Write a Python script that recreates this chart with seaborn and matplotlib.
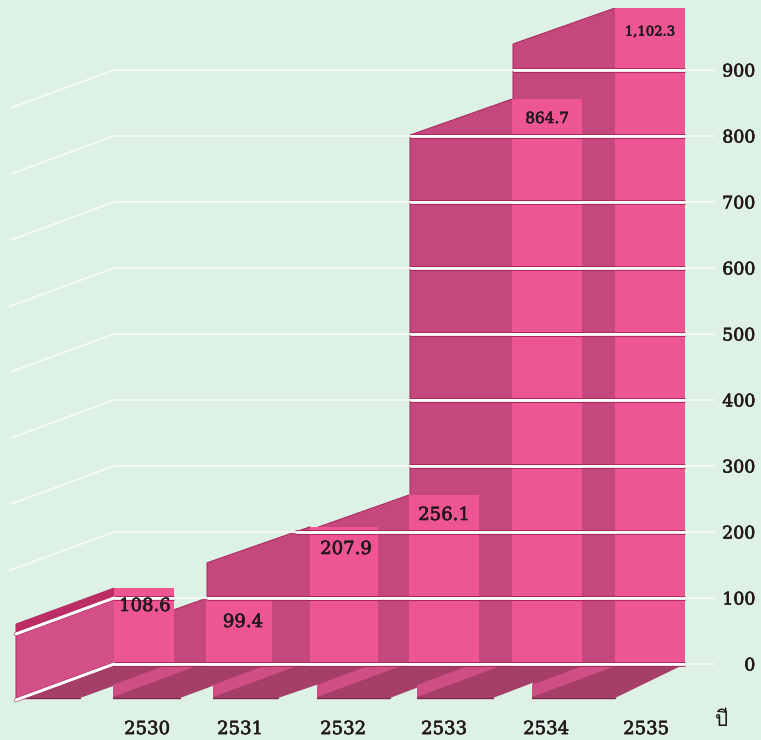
import pandas as pd
import matplotlib
matplotlib.use("Agg")
import matplotlib.pyplot as plt
import matplotlib.font_manager as fm
import matplotlib.patheffects as pe
from matplotlib.ft2font import FT2Font
from matplotlib.patches import Polygon
import seaborn as sns

# data
years = ["2530", "2531", "2532", "2533", "2534", "2535"]
drawn_heights = [115, 99.4, 207.9, 256.1, 856, 994]
value_labels = ["108.6", "99.4", "207.9", "256.1", "864.7", "1,102.3"]
y_ticks = [0, 100, 200, 300, 400, 500, 600, 700, 800, 900]

# layout in picture pixels
W, H = 761, 740
BASE_PY, PX_PER_UNIT = 664, 0.66
AX_TOP_PY, AX_BOTTOM_PY, AX_RIGHT_PX = 8, 702, 715
bar_left = [114, 206, 310, 409, 512, 615]
bar_right = [174, 272, 378, 479, 582, 685]
side_depth = [98, 102, 103, 102, 102, 102]
floor_left = [17, 113, 213, 317, 417, 532]
floor_right = [80, 180, 278, 390, 493, 615]
year_x = [147, 240, 343, 444, 546, 646]
label_y = [606, 622, 549, 515, 119, 32]
label_x = [145, 243, 346, 444, 547, 650]
label_size = [13, 13, 13, 13, 11, 9.5]
DEPTH_PX = 36

BG = "#DDF2E5"
FRONT = "#EE5593"
SIDE = "#C4477D"
SIDE_FIRST = "#D34F88"
TOP_BAND = "#BE2C66"
FLOOR = "#A63F68"
STRIP = "#CF4E84"
DARK = "#A8265A"
INK = "#22181C"


def val(py):
    return (BASE_PY - py) / PX_PER_UNIT


DEPTH_V = DEPTH_PX / PX_PER_UNIT
heavy = [pe.withStroke(linewidth=0.45, foreground=INK)]

sns.set_theme(style="white")
plt.rcParams["font.family"] = ["DejaVu Serif"]

# look for any installed font that has Thai
thai_family = None
for entry in fm.fontManager.ttflist:
    try:
        if 0x0E1B in FT2Font(entry.fname).get_charmap():
            thai_family = entry.name
            break
    except Exception:
        pass
print("thai font:", thai_family)

fig = plt.figure(figsize=(W / 100, H / 100), dpi=100, facecolor=BG)
ax = fig.add_axes([0, 1 - AX_BOTTOM_PY / H, AX_RIGHT_PX / W, (AX_BOTTOM_PY - AX_TOP_PY) / H])
ax.set_facecolor(BG)

df = pd.DataFrame({"year": years, "height": drawn_heights})
sns.barplot(data=df, x="year", y="height", color=FRONT, saturation=1, ax=ax, zorder=4)

# bars are not evenly spaced in the original
for patch, left, right in zip(ax.patches, bar_left, bar_right):
    patch.set_x(left)
    patch.set_width(right - left)
    patch.set_linewidth(0)

ax.set_xlim(0, AX_RIGHT_PX)
ax.set_ylim(val(AX_BOTTOM_PY), val(AX_TOP_PY))

# side faces, right to left
for i in range(len(years) - 1, -1, -1):
    h = drawn_heights[i]
    x = bar_left[i]
    x0 = x - side_depth[i]
    bottom_left = -DEPTH_V if i == 0 else 0
    pts = [(x, 0), (x, h), (x0, h - DEPTH_V), (x0, bottom_left)]
    ax.add_patch(Polygon(pts, closed=True, facecolor=SIDE_FIRST if i == 0 else SIDE,
                         edgecolor="none", zorder=2 + 0.01 * (6 - i)))
    ax.plot([x, x0, x0], [h, h - DEPTH_V, bottom_left], color=DARK, lw=0.7, zorder=2 + 0.01 * (6 - i))

# red band on top of the first side face
x0 = bar_left[0] - side_depth[0]
band = [(x0, drawn_heights[0] - DEPTH_V), (bar_left[0], drawn_heights[0]),
        (bar_left[0], 100), (x0, 100 - DEPTH_V)]
ax.add_patch(Polygon(band, closed=True, facecolor=TOP_BAND, edgecolor="none", zorder=2.5))

# floor under the bars
floor_v = val(698)
step_v = val(685)
for i in range(len(years)):
    if i == 0:
        pts = [(bar_right[i], 0), (floor_right[i], floor_v), (floor_left[i], floor_v), (bar_left[i], 0)]
    else:
        pts = [(bar_right[i], 0), (floor_right[i], floor_v), (floor_left[i], floor_v),
               (floor_left[i], step_v), (bar_right[i - 1] - 40, 0)]
    ax.add_patch(Polygon(pts, closed=True, facecolor=FLOOR, edgecolor="none", zorder=3 + 0.01 * i))
    ax.plot([floor_left[i], floor_right[i]], [floor_v, floor_v], color="#7E2548", lw=1, zorder=3.5)
    if i > 0:
        L = floor_left[i]
        strip = [(L, step_v), (L, val(697)), (L + 81, val(667)), (L + 48, val(667))]
        ax.add_patch(Polygon(strip, closed=True, facecolor=STRIP, edgecolor="none", zorder=3.2 + 0.01 * i))

# grid lines: pale and thin on the paper, white and edged dark over the bars
for t in y_ticks:
    x_end = 16 if t <= 100 else 10
    drop = DEPTH_V * (114 - x_end) / 98
    ax.plot([x_end, 114, AX_RIGHT_PX], [t - drop, t, t], color="#F6FBF8", lw=1.3,
            solid_joinstyle="miter", zorder=6)
    if t <= 100:
        ax.plot([x_end, 114], [t - drop, t], color=DARK, lw=3, zorder=5)
        ax.plot([x_end, 114], [t - drop, t], color="white", lw=2.2, zorder=6)
    for i, h in enumerate(drawn_heights):
        if h <= t:
            continue
        frac = min((h - t) / DEPTH_V, 1)
        x0 = max(bar_left[i] - side_depth[i] * frac, 114)
        ax.plot([x0, bar_right[i]], [t, t], color=DARK, lw=3.4, solid_capstyle="butt", zorder=5)
        ax.plot([x0, bar_right[i]], [t, t], color="white", lw=2, solid_capstyle="butt", zorder=6)

# value labels
for text, x, py, size in zip(value_labels, label_x, label_y, label_size):
    ax.text(x, val(py), text, ha="center", va="center", fontsize=size, color=INK, zorder=7,
            path_effects=heavy)

ax.set_xticks(year_x)
ax.set_xticklabels(years)
ax.yaxis.tick_right()
ax.set_yticks(y_ticks)
ax.tick_params(axis="x", length=0, pad=13, labelsize=13, labelcolor=INK)
ax.tick_params(axis="y", length=0, pad=29, labelsize=12.5, labelcolor=INK)
for lab in ax.get_yticklabels():
    lab.set_ha("right")
    lab.set_path_effects(heavy)
for lab in ax.get_xticklabels():
    lab.set_path_effects(heavy)
ax.set_xlabel("")
ax.set_ylabel("")
sns.despine(ax=ax, left=True, bottom=True)

fig.text(722 / W, 1 - 721 / H, "ปี", fontsize=15, ha="center", va="center",
         family=[thai_family or "DejaVu Sans"], color=INK)

fig.savefig("out.png", dpi=100, facecolor=BG)
if thai_family is None:
    raise SystemExit("no thai font installed")
